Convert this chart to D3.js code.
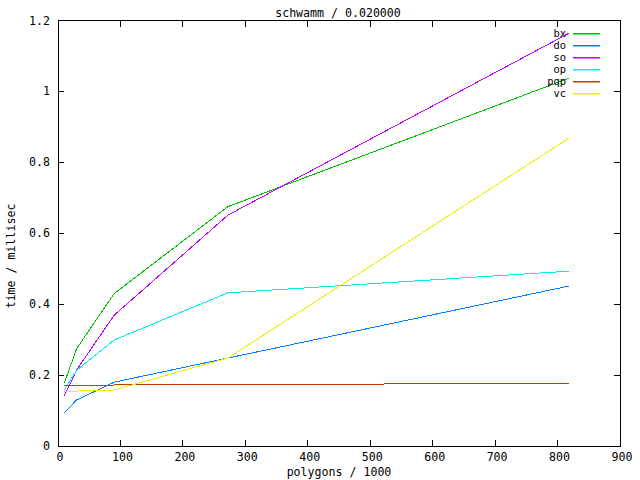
<!DOCTYPE html>
<html>
<head>
<meta charset="utf-8">
<script src="https://cdn.jsdelivr.net/npm/d3@7"></script>
<style>
  body { margin: 0; background: #fff; }
  text { font-family: "DejaVu Sans Mono", monospace; font-size: 11.6px; fill: #000; }
  .legend text { font-size: 10.4px; }
</style>
</head>
<body>
<div id="chart"></div>
<script>
// Data
var polygons = [10, 30, 90, 272, 818];
var seriesNames = ['bx', 'do', 'so', 'op', 'pqp', 'vc'];
var bx = [0.177, 0.275, 0.430, 0.675, 1.037];
var dO = [0.094, 0.130, 0.180, 0.248, 0.451];
var so = [0.141, 0.215, 0.369, 0.651, 1.164];
var op = [0.158, 0.214, 0.299, 0.432, 0.493];
var pqp = [0.170, 0.171, 0.172, 0.173, 0.177];
var vc = [0.153, 0.155, 0.158, 0.248, 0.868];
var seriesColors = ['#00c000', '#0080ff', '#c000ff', '#00eeee', '#c04000', '#eeee00'];
var xTicks = [0, 100, 200, 300, 400, 500, 600, 700, 800, 900];
var yTicks = [0, 0.2, 0.4, 0.6, 0.8, 1, 1.2];

var allValues = [bx, dO, so, op, pqp, vc];

var width = 640,
  height = 480,
  margin = { top: 20.5, right: 20, bottom: 34, left: 58 };

var svg = d3
  .select('#chart')
  .append('svg')
  .attr('width', width)
  .attr('height', height);

var x = d3.scaleLinear().domain([0, 900]).range([margin.left, width - margin.right]);
var y = d3.scaleLinear().domain([0, 1.2]).range([height - margin.bottom, margin.top]);

// Frame
svg
  .append('rect')
  .attr('x', margin.left + 0.5)
  .attr('y', margin.top)
  .attr('width', width - margin.right - margin.left)
  .attr('height', height - margin.bottom - margin.top)
  .attr('fill', 'none')
  .attr('stroke', '#000')
  .attr('shape-rendering', 'crispEdges');

// Inward ticks on all four sides
var tickLen = 6;
var ticks = svg.append('g').attr('stroke', '#000').attr('shape-rendering', 'crispEdges');
xTicks.forEach(function (t) {
  ticks.append('line').attr('x1', x(t)).attr('x2', x(t)).attr('y1', y(0)).attr('y2', y(0) - tickLen);
  ticks.append('line').attr('x1', x(t)).attr('x2', x(t)).attr('y1', y(1.2)).attr('y2', y(1.2) + tickLen);
});
yTicks.forEach(function (t) {
  ticks.append('line').attr('x1', x(0)).attr('x2', x(0) + tickLen).attr('y1', y(t)).attr('y2', y(t));
  ticks.append('line').attr('x1', x(900)).attr('x2', x(900) - tickLen).attr('y1', y(t)).attr('y2', y(t));
});

// Tick labels
svg
  .selectAll('.xlab')
  .data(xTicks)
  .enter()
  .append('text')
  .attr('x', function (d) { return x(d) + 2; })
  .attr('y', y(0) + 15)
  .attr('text-anchor', 'middle')
  .text(function (d) { return d; });

svg
  .selectAll('.ylab')
  .data(yTicks)
  .enter()
  .append('text')
  .attr('x', x(0) - 8)
  .attr('y', function (d) { return y(d) + 4; })
  .attr('text-anchor', 'end')
  .text(function (d) { return d; });

// Titles
svg.append('text').attr('x', 338).attr('y', 17).attr('text-anchor', 'middle').text('schwamm / 0.020000');
svg.append('text').attr('x', 339).attr('y', 476).attr('text-anchor', 'middle').text('polygons / 1000');
svg
  .append('text')
  .attr('transform', 'translate(15,' + 256 + ') rotate(-90)')
  .attr('text-anchor', 'middle')
  .text('time / millisec');

// Lines
var line = d3
  .line()
  .x(function (d, i) { return x(polygons[i]); })
  .y(function (d) { return y(d); });

svg
  .append('g')
  .selectAll('path')
  .data(allValues)
  .enter()
  .append('path')
  .attr('fill', 'none')
  .attr('stroke', function (d, i) { return seriesColors[i]; })
  .attr('stroke-width', 1)
  .attr('shape-rendering', 'crispEdges')
  .attr('d', line);

// Legend
var legend = svg
  .append('g')
  .attr('class', 'legend')
  .selectAll('g')
  .data(seriesNames)
  .enter()
  .append('g')
  .attr('transform', function (d, i) { return 'translate(0,' + (33 + i * 12) + ')'; });

legend
  .append('text')
  .attr('x', 566)
  .attr('y', 4)
  .attr('text-anchor', 'end')
  .text(function (d) { return d; });

legend
  .append('rect')
  .attr('x', 573)
  .attr('y', 0)
  .attr('width', 27)
  .attr('height', 1.5)
  .attr('fill', function (d) { return seriesColors[seriesNames.indexOf(d)]; });
</script>
</body>
</html>
